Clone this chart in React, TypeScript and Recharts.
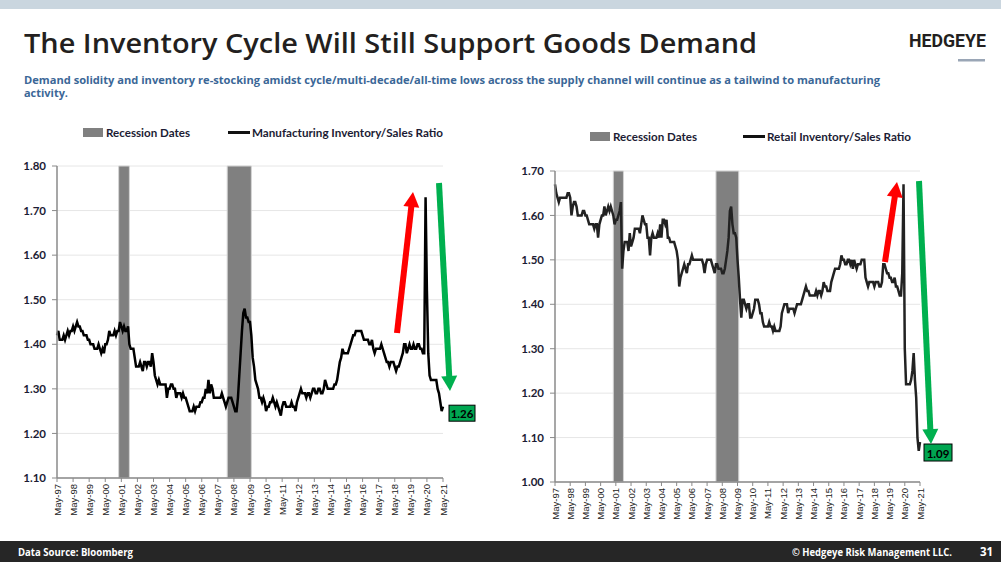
import React from 'react';
import {
  LineChart,
  Line,
  XAxis,
  YAxis,
  CartesianGrid,
  ReferenceArea,
  ReferenceDot,
} from 'recharts';

/* ═══════════════════════════════════════════════════
   Inventory cycle slide — two I/S ratio charts with recession shading
   ═══════════════════════════════════════════════════ */

const MONTH_NAMES = ['Jan', 'Feb', 'Mar', 'Apr', 'May', 'Jun', 'Jul', 'Aug', 'Sep', 'Oct', 'Nov', 'Dec'];

// monthly categories, May-97 .. May-21
const months: string[] = Array.from({ length: 289 }, (_, i) => {
  const year = 1997 + Math.floor((4 + i) / 12);
  return `${MONTH_NAMES[(4 + i) % 12]}-${String(year % 100).padStart(2, '0')}`;
});

const xTicks = months.filter((_, i) => i % 12 === 0);
const mfgTicks = [1.1, 1.2, 1.3, 1.4, 1.5, 1.6, 1.7, 1.8];
const retailTicks = [1.0, 1.1, 1.2, 1.3, 1.4, 1.5, 1.6, 1.7];

const recessions = [
  { start: 'Mar-01', end: 'Nov-01' },
  { start: 'Dec-07', end: 'Jun-09' },
];

// each row = May..Apr
const mfgRatio = [
  1.42, 1.43, 1.41, 1.41, 1.41, 1.42, 1.41, 1.42, 1.43, 1.42, 1.43, 1.43,
  1.44, 1.43, 1.44, 1.45, 1.44, 1.44, 1.43, 1.43, 1.42, 1.42, 1.42, 1.41,
  1.41, 1.40, 1.40, 1.40, 1.39, 1.39, 1.39, 1.40, 1.39, 1.38, 1.39, 1.38,
  1.40, 1.40, 1.41, 1.43, 1.42, 1.42, 1.42, 1.43, 1.42, 1.43, 1.43, 1.45,
  1.44, 1.43, 1.44, 1.43, 1.43, 1.44, 1.40, 1.39, 1.39, 1.39, 1.37, 1.35,
  1.35, 1.35, 1.36, 1.35, 1.34, 1.36, 1.36, 1.35, 1.36, 1.36, 1.35, 1.38,
  1.36, 1.33, 1.32, 1.31, 1.32, 1.31, 1.31, 1.31, 1.31, 1.31, 1.28, 1.30,
  1.30, 1.31, 1.31, 1.30, 1.30, 1.28, 1.29, 1.29, 1.29, 1.28, 1.29, 1.28,
  1.28, 1.27, 1.26, 1.25, 1.25, 1.25, 1.26, 1.25, 1.26, 1.26, 1.26, 1.27,
  1.27, 1.28, 1.28, 1.30, 1.29, 1.32, 1.29, 1.31, 1.30, 1.28, 1.28, 1.28,
  1.28, 1.28, 1.28, 1.29, 1.28, 1.27, 1.26, 1.27, 1.28, 1.28, 1.28, 1.27,
  1.26, 1.25, 1.25, 1.28, 1.33, 1.38, 1.43, 1.47, 1.48, 1.46, 1.46, 1.45,
  1.45, 1.42, 1.37, 1.35, 1.32, 1.31, 1.30, 1.28, 1.28, 1.27, 1.28, 1.27,
  1.25, 1.26, 1.26, 1.27, 1.27, 1.28, 1.27, 1.26, 1.27, 1.26, 1.25, 1.24,
  1.26, 1.27, 1.27, 1.26, 1.26, 1.26, 1.26, 1.27, 1.26, 1.26, 1.25, 1.27,
  1.28, 1.29, 1.30, 1.29, 1.29, 1.29, 1.28, 1.29, 1.29, 1.28, 1.29, 1.30,
  1.30, 1.29, 1.29, 1.30, 1.30, 1.29, 1.29, 1.30, 1.32, 1.31, 1.30, 1.30,
  1.30, 1.30, 1.30, 1.31, 1.31, 1.32, 1.34, 1.36, 1.37, 1.39, 1.38, 1.38,
  1.38, 1.38, 1.39, 1.40, 1.41, 1.42, 1.42, 1.43, 1.43, 1.43, 1.43, 1.43,
  1.42, 1.41, 1.41, 1.41, 1.41, 1.40, 1.40, 1.41, 1.39, 1.38, 1.39, 1.39,
  1.39, 1.39, 1.40, 1.39, 1.38, 1.37, 1.36, 1.36, 1.35, 1.36, 1.36, 1.36,
  1.35, 1.34, 1.35, 1.35, 1.36, 1.37, 1.38, 1.40, 1.40, 1.38, 1.39, 1.40,
  1.39, 1.39, 1.40, 1.39, 1.39, 1.40, 1.40, 1.39, 1.39, 1.38, 1.38, 1.73,
  1.52, 1.38, 1.33, 1.32, 1.32, 1.32, 1.32, 1.32, 1.30, 1.29, 1.27, 1.25,
  1.26,
];

const retailRatio = [
  1.67, 1.65, 1.64, 1.63, 1.64, 1.64, 1.64, 1.64, 1.64, 1.64, 1.65, 1.65,
  1.64, 1.60, 1.62, 1.63, 1.63, 1.62, 1.60, 1.60, 1.60, 1.60, 1.61, 1.61,
  1.60, 1.60, 1.59, 1.58, 1.58, 1.58, 1.58, 1.57, 1.58, 1.58, 1.55, 1.58,
  1.59, 1.60, 1.60, 1.62, 1.60, 1.61, 1.62, 1.61, 1.62, 1.61, 1.60, 1.58,
  1.59, 1.59, 1.60, 1.61, 1.63, 1.48, 1.52, 1.54, 1.54, 1.54, 1.52, 1.56,
  1.53, 1.54, 1.55, 1.57, 1.57, 1.57, 1.57, 1.56, 1.58, 1.60, 1.59, 1.58,
  1.58, 1.55, 1.55, 1.51, 1.55, 1.56, 1.55, 1.55, 1.55, 1.56, 1.55, 1.58,
  1.55, 1.59, 1.59, 1.58, 1.59, 1.55, 1.55, 1.54, 1.54, 1.54, 1.54, 1.53,
  1.52, 1.50, 1.44, 1.46, 1.47, 1.48, 1.49, 1.48, 1.47, 1.49, 1.49, 1.50,
  1.51, 1.50, 1.50, 1.50, 1.50, 1.50, 1.50, 1.50, 1.50, 1.49, 1.47, 1.49,
  1.50, 1.50, 1.50, 1.50, 1.49, 1.48, 1.47, 1.49, 1.49, 1.48, 1.48, 1.48,
  1.47, 1.47, 1.48, 1.50, 1.52, 1.55, 1.61, 1.62, 1.58, 1.56, 1.56, 1.55,
  1.50, 1.46, 1.41, 1.37, 1.41, 1.41, 1.40, 1.39, 1.40, 1.40, 1.37, 1.37,
  1.38, 1.39, 1.41, 1.41, 1.41, 1.40, 1.38, 1.38, 1.36, 1.35, 1.35, 1.35,
  1.35, 1.36, 1.35, 1.35, 1.34, 1.35, 1.34, 1.34, 1.34, 1.34, 1.35, 1.38,
  1.39, 1.40, 1.40, 1.40, 1.38, 1.39, 1.39, 1.39, 1.39, 1.38, 1.39, 1.40,
  1.40, 1.40, 1.40, 1.41, 1.42, 1.43, 1.44, 1.43, 1.43, 1.42, 1.42, 1.42,
  1.42, 1.42, 1.43, 1.42, 1.43, 1.43, 1.42, 1.43, 1.45, 1.44, 1.44, 1.43,
  1.43, 1.43, 1.45, 1.46, 1.47, 1.48, 1.48, 1.48, 1.48, 1.49, 1.51, 1.50,
  1.50, 1.49, 1.49, 1.50, 1.50, 1.49, 1.50, 1.48, 1.50, 1.49, 1.48, 1.49,
  1.49, 1.49, 1.50, 1.50, 1.50, 1.46, 1.45, 1.44, 1.45, 1.45, 1.45, 1.45,
  1.44, 1.45, 1.45, 1.45, 1.44, 1.44, 1.45, 1.49, 1.49, 1.48, 1.47, 1.47,
  1.46, 1.46, 1.45, 1.45, 1.46, 1.44, 1.44, 1.43, 1.42, 1.42, 1.47, 1.67,
  1.30, 1.22, 1.22, 1.22, 1.22, 1.23, 1.25, 1.29, 1.23, 1.19, 1.10, 1.07,
  1.09,
];

const mfgData = months.map((month, i) => ({ month, v: mfgRatio[i] }));
const retailData = months.map((month, i) => ({ month, v: retailRatio[i] }));

const FONT = 'Lato, "Liberation Sans", sans-serif';
const HEAD_FONT = '"Open Sans", sans-serif';
const INK = '#1c1c34';
const AXIS = '#8a8a8a';

function MonthTick({ x, y, payload }: any) {
  return (
    <text
      x={x}
      y={y}
      transform={`rotate(-90, ${x}, ${y})`}
      textAnchor="end"
      dominantBaseline="central"
      fontSize={9.5}
      fontFamily='"Liberation Sans", Arial, sans-serif'
      fill="#222"
    >
      {payload.value}
    </text>
  );
}

function lastBox(dx: number, dy: number, w: number, h: number, text: string) {
  return ({ cx, cy }: any) => (
    <g>
      <rect x={cx + dx} y={cy + dy} width={w} height={h} fill="#00a651" stroke="#000" strokeWidth={1} />
      <text
        x={cx + dx + w / 2}
        y={cy + dy + h / 2 + 0.5}
        textAnchor="middle"
        dominantBaseline="central"
        fontSize={11.5}
        fontWeight={700}
        fontFamily={FONT}
        fill="#000"
      >
        {text}
      </text>
    </g>
  );
}

interface PanelProps {
  data: { month: string; v: number }[];
  values: number[];
  ticks: number[];
  domain: [number, number];
  left: number;
  margin: { top: number; right: number; bottom: number; left: number };
  yWidth: number;
  stroke: string;
  box: { dx: number; dy: number; w: number; h: number };
}

function Panel({ data, values, ticks, domain, left, margin, yWidth, stroke, box }: PanelProps) {
  const last = values[values.length - 1];
  return (
    <div style={{ position: 'absolute', left, top: 150 }}>
      <LineChart width={480} height={400} data={data} margin={margin}>
        <CartesianGrid vertical={false} stroke="#e6e6e6" />
        {recessions.map((r) => (
          <ReferenceArea
            key={r.start}
            x1={r.start}
            x2={r.end}
            fill="#808080"
            fillOpacity={1}
            stroke="#d4d4d4"
            strokeWidth={1}
          />
        ))}
        <XAxis
          dataKey="month"
          ticks={xTicks}
          interval={0}
          tick={<MonthTick />}
          tickSize={4}
          tickMargin={2}
          height={50}
          axisLine={{ stroke: AXIS, strokeWidth: 1.5 }}
          tickLine={{ stroke: AXIS }}
        />
        <YAxis
          type="number"
          domain={domain}
          ticks={ticks}
          interval={0}
          width={yWidth}
          tickFormatter={(v: number) => v.toFixed(2)}
          tick={{ fontSize: 11.5, fontWeight: 700, fill: INK, fontFamily: FONT }}
          tickSize={5}
          tickMargin={6}
          axisLine={{ stroke: AXIS, strokeWidth: 1.5 }}
          tickLine={{ stroke: AXIS }}
        />
        <Line
          type="linear"
          dataKey="v"
          stroke={stroke}
          strokeWidth={2.5}
          dot={false}
          isAnimationActive={false}
        />
        <ReferenceDot
          x={months[months.length - 1]}
          y={last}
          r={0}
          ifOverflow="visible"
          shape={lastBox(box.dx, box.dy, box.w, box.h, last.toFixed(2))}
        />
      </LineChart>
    </div>
  );
}

function Arrow({ x1, y1, x2, y2, color }: { x1: number; y1: number; x2: number; y2: number; color: string }) {
  const len = Math.hypot(x2 - x1, y2 - y1);
  const ux = (x2 - x1) / len;
  const uy = (y2 - y1) / len;
  const px = -uy;
  const py = ux;
  const hl = 15;
  const hw = 8;
  const bx = x2 - ux * hl;
  const by = y2 - uy * hl;
  return (
    <g>
      <line x1={x1} y1={y1} x2={bx + ux} y2={by + uy} stroke={color} strokeWidth={6} />
      <polygon
        points={`${x2},${y2} ${bx + px * hw},${by + py * hw} ${bx - px * hw},${by - py * hw}`}
        fill={color}
      />
    </g>
  );
}

function Legend({ x1, y, textA, lenA, x2, textB, lenB }: any) {
  return (
    <g fontFamily={FONT} fontSize={12} fontWeight={700} fill={INK}>
      <rect x={x1} y={y - 4.5} width={20} height={9} fill="#808080" />
      <text x={x1 + 23} y={y} dominantBaseline="central" textLength={lenA} lengthAdjust="spacingAndGlyphs">
        {textA}
      </text>
      <line x1={x2} y1={y} x2={x2 + 22} y2={y} stroke="#111" strokeWidth={3} />
      <text x={x2 + 24} y={y} dominantBaseline="central" textLength={lenB} lengthAdjust="spacingAndGlyphs">
        {textB}
      </text>
    </g>
  );
}

export default function App() {
  return (
    <div style={{ position: 'absolute', left: 0, top: 0, width: 1001, height: 562, background: '#fff', overflow: 'hidden' }}>
      <svg width={1001} height={562} style={{ position: 'absolute', left: 0, top: 0 }}>
        <rect x={0} y={0} width={1001} height={9} fill="#cad6df" />
        <text
          x={24}
          y={53}
          fontFamily={HEAD_FONT}
          fontWeight={600}
          fontSize={26.5}
          fill="#231f20"
          textLength={733}
          lengthAdjust="spacingAndGlyphs"
        >
          The Inventory Cycle Will Still Support Goods Demand
        </text>
        <text
          x={909}
          y={47}
          fontFamily="Roboto, sans-serif"
          fontWeight={700}
          fontSize={17.5}
          fill="#231f20"
          textLength={77}
          lengthAdjust="spacingAndGlyphs"
        >
          HEDGEYE
        </text>
        <rect x={958} y={59} width={27} height={2.5} fill="#9aa6b6" />
        <g fontFamily={HEAD_FONT} fontWeight={700} fontSize={10} fill="#3b6797">
          <text x={24} y={83.5} textLength={856} lengthAdjust="spacingAndGlyphs">
            Demand solidity and inventory re-stocking amidst cycle/multi-decade/all-time lows across the supply channel will continue as a tailwind to manufacturing
          </text>
          <text x={24} y={97} textLength={44} lengthAdjust="spacingAndGlyphs">
            activity.
          </text>
        </g>
        <Legend
          x1={83}
          y={132.5}
          textA="Recession Dates"
          lenA={84}
          x2={228}
          textB="Manufacturing Inventory/Sales Ratio"
          lenB={191}
        />
        <Legend
          x1={590}
          y={136.5}
          textA="Recession Dates"
          lenA={84}
          x2={743}
          textB="Retail Inventory/Sales Ratio"
          lenB={144}
        />
        <rect x={0} y={541} width={1001} height={21} fill="#262626" />
        <g fontFamily={HEAD_FONT} fontWeight={700} fontSize={10.5} fill="#fff">
          <text x={18} y={556} textLength={115} lengthAdjust="spacingAndGlyphs">
            Data Source: Bloomberg
          </text>
          <text x={792} y={556} textLength={160} lengthAdjust="spacingAndGlyphs">
            © Hedgeye Risk Management LLC.
          </text>
          <text x={980} y={556} fontSize={11.5}>
            31
          </text>
        </g>
      </svg>

      <Panel
        data={mfgData}
        values={mfgRatio}
        ticks={mfgTicks}
        domain={[1.1, 1.8]}
        left={0}
        margin={{ top: 16, right: 37, bottom: 22, left: 0 }}
        yWidth={57}
        stroke="#000"
        box={{ dx: 6, dy: -1.5, w: 26, h: 16 }}
      />
      <Panel
        data={retailData}
        values={retailRatio}
        ticks={retailTicks}
        domain={[1.0, 1.7]}
        left={500}
        margin={{ top: 21, right: 60, bottom: 18, left: 0 }}
        yWidth={55}
        stroke="#222"
        box={{ dx: 4, dy: 2, w: 28, h: 17 }}
      />

      <svg width={1001} height={562} style={{ position: 'absolute', left: 0, top: 0, pointerEvents: 'none' }}>
        <Arrow x1={397} y1={333} x2={413} y2={192} color="#ff0000" />
        <Arrow x1={439} y1={183} x2={450} y2={391} color="#00b04f" />
        <Arrow x1={885} y1={262} x2={897} y2={182} color="#ff0000" />
        <Arrow x1={919} y1={181} x2={931} y2={444} color="#00b04f" />
      </svg>
    </div>
  );
}
